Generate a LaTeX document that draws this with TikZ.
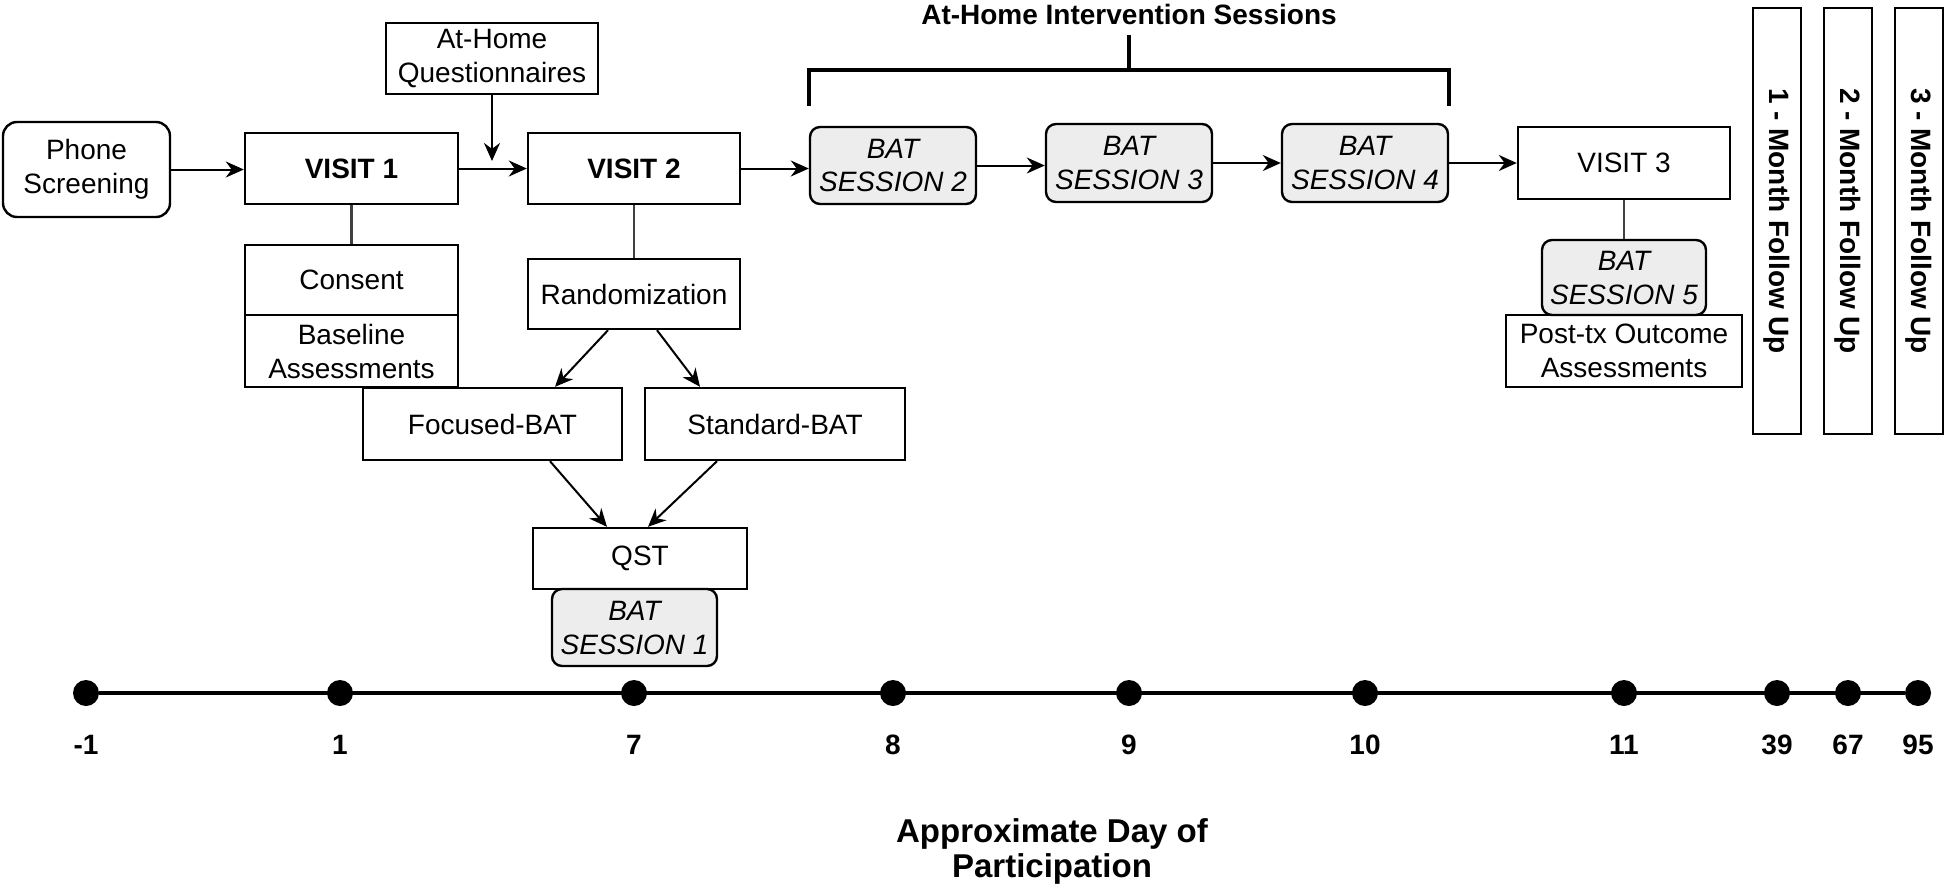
\documentclass[tikz,border=0pt]{standalone}
\usepackage{fontspec}
\setmainfont{Liberation Sans}
\usetikzlibrary{arrows.meta}
\usetikzlibrary{calc}
\newcommand{\bodyfont}{\fontsize{14}{17}\selectfont}

\begin{document}
\begin{tikzpicture}[x=0.5pt,y=-0.5pt,>={Stealth[length=9pt,width=8pt]},
    box/.style={draw,line width=1.2pt,align=center,inner sep=2pt,font=\bodyfont},
    vbox/.style={box,font=\bodyfont\bfseries},
    wh/.style 2 args={minimum width=#1*0.5pt,minimum height=#2*0.5pt},
    sess/.style={box,rounded corners=5pt,fill=black!7,font=\bodyfont\itshape},
    fup/.style={box,rotate=-90,font=\bodyfont\bfseries},
    dot/.style={circle,fill=black,inner sep=0pt,minimum size=13pt},
    lnk/.style={line width=1.2pt,black!75},
    arr/.style={->,line width=1pt},
    brk/.style={line width=2pt}]
    \useasboundingbox (0,0) rectangle (1944,889);

    % visits and what happens at them
    \node[box,wh={167}{95},rounded corners=7pt] (phone) at (86.5,169.5) {Phone\\Screening};
    \node[vbox,wh={213}{71}] (v1) at (351.5,168.5) {VISIT 1};
    \node[box,wh={213}{70}] (consent) at (351.5,280) {Consent};
    \node[box,wh={213}{72}] (base) at (351.5,351) {Baseline\\Assessments};
    \node[box,wh={212}{71}] (quest) at (492,58.5) {At-Home\\Questionnaires};
    \node[vbox,wh={212}{71}] (v2) at (634,168.5) {VISIT 2};
    \node[box,wh={212}{70}] (rand) at (634,294) {Randomization};
    \node[box,wh={259}{72}] (foc) at (492.5,424) {Focused-BAT};
    \node[box,wh={260}{72}] (std) at (775,424) {Standard-BAT};
    \node[box,wh={214}{61}] (qst) at (640,558.5) {QST};
    \node[sess,wh={165}{77}] (s1) at (634.5,627.5) {BAT\\SESSION 1};
    \node[sess,wh={166}{77}] (s2) at (893,165.5) {BAT\\SESSION 2};
    \node[sess,wh={166}{78}] (s3) at (1129,163) {BAT\\SESSION 3};
    \node[sess,wh={166}{78}] (s4) at (1365,163) {BAT\\SESSION 4};
    \node[box,wh={212}{72}] (v3) at (1624,163) {VISIT 3};
    \node[sess,wh={164}{75}] (s5) at (1624,277.5) {BAT\\SESSION 5};
    \node[box,wh={236}{72}] (post) at (1624,351) {Post-tx Outcome\\Assessments};
    \node[fup,wh={426}{48}] (f1) at (1777,221) {1 - Month Follow Up};
    \node[fup,wh={426}{48}] (f2) at (1848,221) {2 - Month Follow Up};
    \node[fup,wh={426}{48}] (f3) at (1919,221) {3 - Month Follow Up};
    \coordinate (qend) at (492,161);

    \draw[arr] (phone.east) -- (phone.east -| v1.west);
    \draw[arr] (v1.east) -- (v2.west);
    \draw[arr] (quest.south) -- (qend);
    \draw[arr] (v2.east) -- (v2.east -| s2.west);
    \draw[arr] (s2.east) -- (s2.east -| s3.west);
    \draw[arr] (s3.east) -- (s4.west);
    \draw[arr] (s4.east) -- (v3.west);
    \draw[lnk] (v1.south) -- (consent.north);
    \draw[lnk] (v2.south) -- (rand.north);
    \draw[lnk] (v3.south) -- (s5.north);
    \draw[arr] ($(rand.south)+(-26,0)$) -- ($(foc.north)+(62.5,0)$);
    \draw[arr] ($(rand.south)+(23,0)$) -- ($(std.north)+(-75,0)$);
    \draw[arr] ($(foc.south)+(57.5,0)$) -- ($(qst.north)+(-33,0)$);
    \draw[arr] ($(std.south)+(-58,0)$) -- ($(qst.north)+(8,0)$);

    % bracket over the at-home sessions
    \coordinate (bl) at ($(s2.north west)+(0,-20)$);
    \coordinate (br) at (bl -| s4.north east);
    \draw[brk] (bl) -- ++(0,-36) -| (br);
    \draw[brk] ($(bl)!0.5!(br)+(0,-36)$) -- ++(0,-35);
    \node[font=\bodyfont\bfseries] (title) at (1129,14) {At-Home Intervention Sessions};

    % time line
    \foreach \d/\x/\t in {1/86/-1,2/340/1,3/634/7,4/893/8,5/1129/9,6/1365/10,7/1624/11,8/1777/39,9/1848/67,10/1918/95}{
        \node[dot] (t\d) at (\x,693) {};
        \node[font=\bodyfont\bfseries] (l\d) at (\x,745) {\t};
    }
    \draw[line width=2pt] (t1) -- (t10);
    \node[font=\fontsize{16.5}{17.5}\selectfont\bfseries,align=center] (cap) at (1052,851) {Approximate Day of\\Participation};
\end{tikzpicture}
\end{document}
